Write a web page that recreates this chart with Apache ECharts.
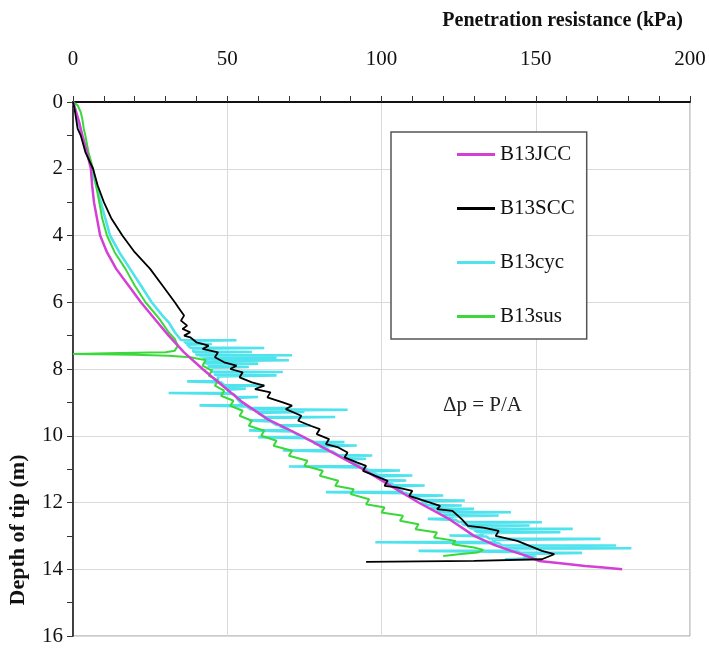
<!DOCTYPE html>
<html><head><meta charset="utf-8">
<script src="https://cdn.jsdelivr.net/npm/echarts@6/dist/echarts.min.js"></script>
<style>html,body{margin:0;padding:0;background:#fff}#c{width:709px;height:650px}</style>
</head><body><div id="c"></div>
<script>
// ---- data: [penetration resistance (kPa), depth of tip (m)] ----
const seriesNames = ['B13JCC', 'B13SCC', 'B13cyc', 'B13sus'];
const xTickValues = [0, 50, 100, 150, 200];
const yTickValues = [0, 2, 4, 6, 8, 10, 12, 14, 16];

const b13jcc = [[0,0],[1,0.3],[2,0.6],[3,1.0],[4.5,1.5],[5.8,2],[6.2,2.5],[6.8,3],[7.8,3.5],[8.8,4],[11,4.5],[14,5],[18,5.5],[22,6],[26.5,6.5],[31,7],[36,7.5],[42,8],[48.5,8.5],[55,9],[63,9.5],[74,10],[84,10.5],[94,11],[103,11.5],[112,12],[122,12.5],[130,13],[136,13.25],[142,13.45],[147,13.6],[151,13.75],[158,13.82],[166,13.9],[172,13.95],[178,14]];

const b13scc = [[0,0],[0.5,0.2],[1,0.5],[1.5,0.8],[2.5,1.0],[4,1.5],[6.5,2],[8,2.5],[10,3],[12.5,3.5],[16,4],[20,4.5],[25,5],[29,5.5],[33,6],[34.5,6.2],[36,6.4],[35,6.55],[37,6.7],[35.5,6.8],[38,6.9],[36,7.0],[38,7.05],[40,7.2],[44,7.3],[42,7.4],[47,7.5],[46,7.65],[49,7.8],[53,7.9],[51,8.0],[55,8.1],[54,8.25],[58,8.4],[62,8.5],[59,8.6],[64,8.7],[63,8.85],[68,9.0],[71,9.1],[69,9.2],[74,9.4],[73,9.55],[77,9.7],[80,9.8],[79,9.95],[83,10.1],[82,10.25],[86,10.35],[89,10.5],[88,10.65],[92,10.8],[95,10.9],[94,11.05],[98,11.2],[102,11.35],[101,11.5],[105,11.55],[110,11.65],[109,11.8],[114,11.95],[119,12.1],[118,12.2],[123,12.25],[126,12.5],[128,12.7],[133,12.75],[138,12.85],[137,13.0],[144,13.15],[148,13.3],[152,13.45],[156,13.55],[152,13.7],[130,13.75],[95,13.78]];

const b13cyc = [[0,0],[1,0.3],[2,0.7],[3,1],[4.5,1.5],[6,2],[7.5,2.5],[9,3],[10.5,3.5],[12,4],[15,4.5],[18.5,5],[22,5.5],[25.5,6],[29,6.4],[31,6.6],[33,6.9],
[35,7.13],[53,7.14],[36,7.17],[37,7.24],[45,7.25],[37,7.27],[38,7.36],[62,7.37],[39,7.4],[39,7.48],[58,7.49],[40,7.52],
[40,7.58],[71,7.59],[41,7.62],[41,7.66],[66,7.67],[42,7.7],[42,7.73],[70,7.74],[43,7.77],[43,7.83],[60,7.84],[44,7.87],
[44,7.93],[57,7.94],[45,7.97],[45,8.08],[68,8.09],[46,8.12],[46,8.18],[66,8.19],[47,8.22],[47,8.36],[37,8.37],[48,8.4],
[49,8.48],[62,8.49],[49,8.52],[50,8.58],[56,8.59],[50,8.62],[51,8.71],[31,8.72],[52,8.75],[53,8.83],[60,8.84],[53,8.87],
[55,9.08],[41,9.09],[56,9.12],[57,9.16],[70,9.17],[57,9.19],[58,9.21],[89,9.22],[59,9.25],[60,9.28],[75,9.29],[60,9.32],
[62,9.43],[85,9.44],[62,9.47],[63,9.53],[57,9.54],[64,9.57],[66,9.68],[77,9.69],[67,9.72],[70,9.83],[57,9.84],[71,9.87],
[74,10.03],[60,10.04],[75,10.07],[78,10.18],[88,10.19],[78,10.22],[80,10.28],[92,10.29],[80,10.32],[83,10.43],[68,10.44],[84,10.47],
[86,10.58],[97,10.59],[87,10.62],[88,10.68],[95,10.69],[89,10.72],[93,10.91],[70,10.92],[94,10.95],[96,11.03],[106,11.04],[96,11.07],
[99,11.18],[110,11.19],[99,11.22],[101,11.33],[108,11.34],[102,11.37],[104,11.48],[114,11.49],[104,11.52],[107,11.68],[82,11.69],[108,11.72],
[110,11.78],[120,11.79],[110,11.82],[113,11.93],[127,11.94],[113,11.97],[115,12.08],[126,12.09],[116,12.12],[117,12.18],[130,12.19],[118,12.22],
[119,12.28],[142,12.29],[120,12.32],[121,12.38],[138,12.39],[122,12.42],[123,12.48],[115,12.49],[124,12.52],[125,12.58],[152,12.59],[126,12.62],
[127,12.68],[148,12.69],[128,12.72],[129,12.78],[162,12.79],[130,12.82],[131,12.88],[158,12.89],[132,12.92],[133,12.98],[122,12.99],[134,13.02],
[135,13.08],[171,13.09],[136,13.12],[137,13.18],[98,13.19],[138,13.22],[139,13.28],[176,13.29],[140,13.32],[141,13.36],[181,13.37],[142,13.4],
[143,13.44],[112,13.45],[144,13.48],[145,13.5],[165,13.51],[146,13.54],[147,13.6],[150,13.61],[146,13.64],[148,13.68],[140,13.7]];

const b13sus = [[0,0],[1.5,0.1],[2.5,0.3],[3,0.5],[3.5,0.8],[4,1.0],[5,1.5],[6.5,2],[7.5,2.5],[8.5,3],[9.5,3.5],[11,4],[13.5,4.5],[17,5],[20,5.5],[23.5,6],[28,6.5],[31,6.9],[33,7.1],[34,7.3],[33,7.45],[30,7.5],[15,7.52],[0,7.55],[8,7.56],[20,7.57],[31,7.6],[38,7.65],[41,7.7],[43,7.73],[42,7.9],[45,8.05],[44,8.2],[47,8.35],[46,8.5],[49,8.65],[48,8.8],[52,8.95],[51,9.1],[55,9.25],[54,9.4],[58,9.55],[57,9.7],[62,9.85],[61,10.0],[66,10.15],[65,10.3],[71,10.45],[70,10.6],[76,10.75],[75,10.9],[81,11.05],[80,11.2],[86,11.35],[85,11.5],[91,11.6],[90,11.75],[96,11.9],[95,12.05],[101,12.15],[100,12.3],[107,12.4],[106,12.55],[112,12.65],[111,12.8],[118,12.9],[117,13.05],[124,13.15],[123,13.25],[130,13.35],[133,13.42],[131,13.5],[125,13.55],[120,13.6]];

const FONT = '"Liberation Serif","Times New Roman",serif';
const colors = { B13JCC: '#d43fd4', B13SCC: '#000000', B13cyc: '#4fe3ee', B13sus: '#3ad83a' };

const chart = echarts.init(document.getElementById('c'), null, { renderer: 'canvas' });
chart.setOption({
  animation: false,
  backgroundColor: '#ffffff',
  title: {
    text: 'Penetration resistance (kPa)', right: 21, top: 6,
    textStyle: { fontFamily: FONT, fontWeight: 'bold', fontSize: 20, color: '#111' }
  },
  grid: { left: 73, right: 19, top: 102, bottom: 14, show: true, borderColor: '#999', borderWidth: 1 },
  xAxis: {
    type: 'value', position: 'top', min: xTickValues[0], max: xTickValues[xTickValues.length - 1], interval: 50,
    axisLine: { show: true, onZero: false, lineStyle: { color: '#111', width: 2 } },
    axisTick: { show: true, inside: false, length: 6, lineStyle: { color: '#333' } },
    minorTick: { show: true, splitNumber: 5, length: 6, lineStyle: { color: '#333' } },
    splitLine: { show: true, lineStyle: { color: '#dadada' } },
    axisLabel: { margin: 32, fontFamily: FONT, fontSize: 21, color: '#111' }
  },
  yAxis: {
    type: 'value', inverse: true, min: yTickValues[0], max: yTickValues[yTickValues.length - 1], interval: 2,
    axisLine: { show: true, onZero: false, lineStyle: { color: '#111', width: 1.5 } },
    axisTick: { show: true, inside: false, length: 6, lineStyle: { color: '#333' } },
    minorTick: { show: true, splitNumber: 2, length: 6, lineStyle: { color: '#333' } },
    splitLine: { show: true, lineStyle: { color: '#dadada' } },
    axisLabel: { margin: 10, fontFamily: FONT, fontSize: 21, color: '#111' }
  },
  legend: {
    data: seriesNames, orient: 'vertical', left: 391, top: 132,
    padding: [12, 12, 12, 66], itemGap: 33, itemWidth: 38, itemHeight: 3, icon: 'rect',
    backgroundColor: '#ffffff', borderColor: '#555', borderWidth: 1.5,
    textStyle: { fontFamily: FONT, fontSize: 21, color: '#111' }
  },
  graphic: [
    { type: 'text', left: 443, top: 395, z: 10,
      style: { text: 'Δp = P/A', font: '21px "Liberation Serif", serif', fill: '#222' } },
    { type: 'text', x: 18, y: 530, rotation: Math.PI / 2, z: 10,
      style: { text: 'Depth of tip (m)', font: 'bold 22px "Liberation Serif", serif', fill: '#111', align: 'center', verticalAlign: 'middle' } }
  ],
  series: [
    { name: 'B13cyc', type: 'line', data: b13cyc, symbol: 'none', z: 2, lineStyle: { color: colors.B13cyc, width: 2.6 }, itemStyle: { color: colors.B13cyc } },
    { name: 'B13sus', type: 'line', data: b13sus, symbol: 'none', z: 3, lineStyle: { color: colors.B13sus, width: 2 }, itemStyle: { color: colors.B13sus } },
    { name: 'B13JCC', type: 'line', data: b13jcc, symbol: 'none', z: 4, lineStyle: { color: colors.B13JCC, width: 2.5 }, itemStyle: { color: colors.B13JCC } },
    { name: 'B13SCC', type: 'line', data: b13scc, symbol: 'none', z: 5, lineStyle: { color: colors.B13SCC, width: 1.8 }, itemStyle: { color: colors.B13SCC } }
  ]
});
</script></body></html>
